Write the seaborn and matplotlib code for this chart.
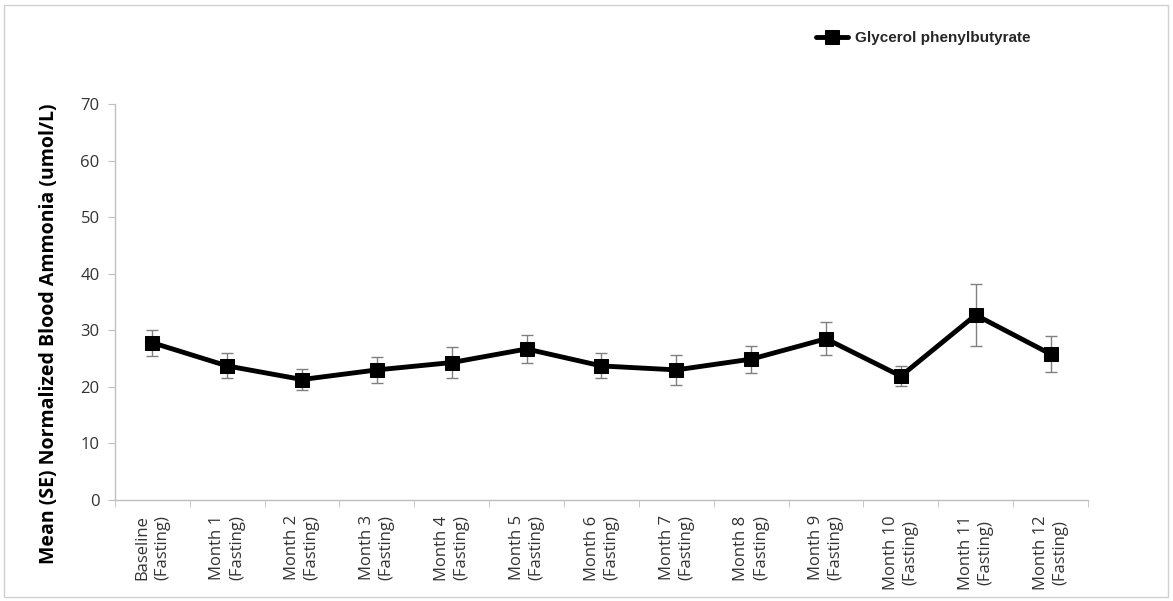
import numpy as np
import seaborn as sns
import matplotlib.pyplot as plt
import pandas as pd
from matplotlib.patches import Rectangle

# values
visits = ["Baseline\n(Fasting)"] + [f"Month {i}\n(Fasting)" for i in range(1, 13)]
ammonia_mean = [27.8, 23.7, 21.3, 23.0, 24.3, 26.7, 23.7, 23.0, 24.9, 28.5, 21.9, 32.7, 25.8]
ammonia_se = [2.3, 2.2, 1.9, 2.3, 2.8, 2.4, 2.2, 2.6, 2.4, 2.9, 1.8, 5.4, 3.2]
series_name = "Glycerol phenylbutyrate"

df = pd.DataFrame({"visit": visits, "mean": ammonia_mean, "se": ammonia_se})
df["pos"] = np.arange(len(df))

sns.set_style("white")
plt.rcParams['font.family'] = ['Open Sans', 'DejaVu Sans']

fig = plt.figure(figsize=(11.73, 6.01), dpi=100)
ax = fig.add_axes([0.098, 0.168, 0.8295, 0.659])

# outer chart border
fig.patches.append(Rectangle((4 / 1173, 4 / 601), 1164 / 1173, 592 / 601,
                             transform=fig.transFigure, fill=False,
                             edgecolor="#d0d0d0", linewidth=1))

ax.errorbar(df["pos"], df["mean"], yerr=df["se"], fmt="none",
            ecolor="#808080", elinewidth=1, capsize=4, capthick=1, zorder=2)
sns.lineplot(data=df, x="pos", y="mean", ax=ax, color="black", linewidth=3.5,
             marker="s", markersize=10, markeredgecolor="black",
             label=series_name, zorder=3)

ax.set_xlim(-0.5, len(df) - 0.5)
ax.set_ylim(0, 70)
ax.set_yticks(range(0, 71, 10))
ax.tick_params(axis="y", labelsize=12, length=5, direction="out", left=True,
               color="#bfbfbf", labelcolor="#333333", pad=6)

# category labels at centers, tick marks at the boundaries
ax.set_xticks(df["pos"])
ax.set_xticklabels(df["visit"], rotation=90, fontsize=12, color="#333333",
                   multialignment="center", va="top", ha="center",
                   linespacing=1.3)
ax.tick_params(axis="x", which="major", length=0, pad=11)
ax.set_xticks(np.arange(-0.5, len(df), 1), minor=True)
ax.tick_params(axis="x", which="minor", length=5, color="#bfbfbf",
               direction="out", bottom=True)

for side in ["top", "right"]:
    ax.spines[side].set_visible(False)
for side in ["left", "bottom"]:
    ax.spines[side].set_color("#bfbfbf")
    ax.spines[side].set_linewidth(1)

ax.set_xlabel("")
ax.set_ylabel("Mean (SE) Normalized Blood Ammonia (umol/L)", fontsize=14,
              fontweight="bold", color="black")
ax.yaxis.set_label_coords(-0.057, 0.42)

ax.legend(loc="center left", bbox_to_anchor=(802 / 1173, 1 - 38 / 601),
          bbox_transform=fig.transFigure, frameon=False, handlelength=2.1,
          handletextpad=0.5,
          prop={"family": "Liberation Sans", "weight": "bold", "size": 11})

fig.savefig("out.png", dpi=100)
